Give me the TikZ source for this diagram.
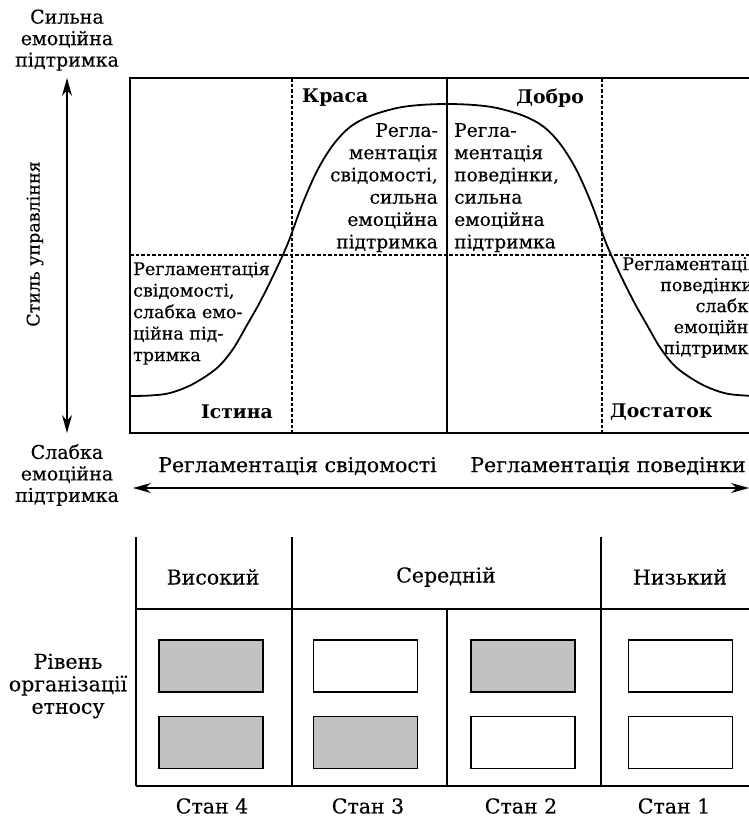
\documentclass[tikz,border=0pt]{standalone}
\usepackage{fontspec}
\setmainfont[UprightFeatures={FakeBold=0.3}]{DejaVu Serif}
\usetikzlibrary{arrows.meta}

\begin{document}
\begin{tikzpicture}[x=1pt,y=-1pt,
  frame/.style={line width=1.6pt},
  divider/.style={line width=1.2pt, dash pattern=on 3.5pt off 2pt},
  curveline/.style={line width=1.8pt, line join=round},
  lbl/.style={inner sep=0pt, font=\fontsize{17.5}{22.3}\selectfont},
  peaklbl/.style={inner sep=0pt, font=\fontsize{18.6}{22.3}\selectfont},
  sidelbl/.style={inner sep=0pt, font=\fontsize{19}{21.5}\selectfont},
  tablelbl/.style={inner sep=0pt, font=\fontsize{20.5}{22.5}\selectfont},
  boldlbl/.style={inner sep=0pt, font=\fontsize{18.8}{22}\selectfont\bfseries},
  axislbl/.style={inner sep=0pt, font=\fontsize{20.5}{22}\selectfont},
  cell/.style={draw, line width=1.4pt, minimum width=104pt, minimum height=52pt, inner sep=0pt},
  shaded/.style={cell, fill=black!24},
  plain/.style={cell, fill=white},
  axisarrow/.style={line width=1.2pt, {Stealth[length=18pt,width=10pt]}-{Stealth[length=18pt,width=10pt]}},
]
% canvas
\fill[white] (0,0) rectangle (749,819);
\useasboundingbox (0,0) rectangle (749,819);
\clip (0,0) rectangle (749,819);

% ---------- upper chart ----------
\draw[frame] (130,78) rectangle (764,433);
\draw[divider] (292,78) -- (292,433);
\draw[frame] (447,78) -- (447,433);
\draw[divider] (602,78) -- (602,433);
\draw[divider] (130,255) -- (764,255);

% bell-shaped curve
\draw[curveline] plot[smooth, tension=0.55] coordinates {
  (130,396) (150,395.5) (170,393) (193,384) (217,368) (233,349) (247,325)
  (260,302) (274,274) (288,243) (302,205) (317,171) (333,145) (350,127)
  (370,116) (397,108) (420,105) (447,104)
  (474,105) (497,108) (524,116) (544,127) (561,145) (577,171) (592,205)
  (606,243) (620,274) (634,302) (647,325) (661,349) (677,368) (701,384)
  (724,393) (744,395.5) (764,396)};

% quadrant titles
\node[boldlbl, anchor=west] (krasa) at (302,98) {Краса};
\node[boldlbl, anchor=east] (dobro) at (584,98) {Добро};
\node[boldlbl, anchor=east] (istyna) at (273,412) {Істина};
\node[boldlbl, anchor=west] (dostatok) at (610,412) {Достаток};

% quadrant descriptions
\node[peaklbl, align=right, anchor=north east] (krasatext) at (438,123)
  {Регла-\\ментація\\свідомості,\\сильна\\емоційна\\підтримка};
\node[peaklbl, align=left, anchor=north west] (dobrotext) at (454,123)
  {Регла-\\ментація\\поведінки,\\сильна\\емоційна\\підтримка};
\node[lbl, align=left, anchor=north west, font=\fontsize{17.5}{21.5}\selectfont]
  (istynatext) at (133,262)
  {Регламентація\\свідомості,\\слабка емо-\\ційна під-\\тримка};
\node[lbl, align=right, anchor=north east, font=\fontsize{17.5}{21}\selectfont]
  (dostatoktext) at (759,257)
  {Регламентація\\поведінки,\\слабка\\емоційна\\підтримка};

% ---------- axes ----------
\coordinate (vtop) at (67,78);
\coordinate (vbot) at (67,433);
\draw[axisarrow] (vtop) -- (vbot);
\node[sidelbl, align=center] (strong) at (67,40) {Сильна\\емоційна\\підтримка};
\node[sidelbl, align=center] (weak) at (67,475) {Слабка\\емоційна\\підтримка};
\node[lbl, rotate=90] (stylelbl) at (35,244) {Стиль управління};

\coordinate (hleft) at (133,488);
\coordinate (hright) at (749,488);
\draw[axisarrow] (hleft) -- (hright);
\node[axislbl] (consc) at (297.5,466) {Регламентація свідомості};
\node[axislbl] (behav) at (608,466) {Регламентація поведінки};

% ---------- lower table ----------
\draw[frame] (136,537) -- (136,786);
\draw[frame] (292,537) -- (292,786);
\draw[frame] (601,537) -- (601,786);
\draw[frame] (447,609) -- (447,786);
\draw[frame] (136,609) -- (764,609);
\draw[frame] (136,786) -- (764,786);

\node[tablelbl] (high) at (213,577) {Високий};
\node[tablelbl] (mid) at (446,577) {Середній};
\node[tablelbl] (low) at (680,577) {Низький};

\node[tablelbl, align=center] (level) at (68,686) {Рівень\\організації\\етносу};

\node[shaded] (s4a) at (211,666) {};
\node[shaded] (s4b) at (211,742.5) {};
\node[plain]  (s3a) at (365.5,666) {};
\node[shaded] (s3b) at (365.5,742.5) {};
\node[shaded] (s2a) at (523,666) {};
\node[plain]  (s2b) at (523,742.5) {};
\node[plain]  (s1a) at (680.5,666) {};
\node[plain]  (s1b) at (680.5,742.5) {};

\node[tablelbl] (st4) at (212,806) {Стан 4};
\node[tablelbl] (st3) at (368,806) {Стан 3};
\node[tablelbl] (st2) at (521,806) {Стан 2};
\node[tablelbl] (st1) at (674,806) {Стан 1};
\end{tikzpicture}
\end{document}
